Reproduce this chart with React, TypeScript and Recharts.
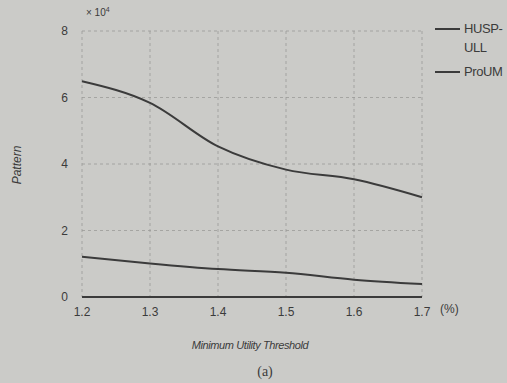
import { LineChart, Line, XAxis, YAxis, CartesianGrid } from "recharts";

const thresholds = [1.2, 1.3, 1.4, 1.5, 1.6, 1.7];
const huspUll = [6.49, 5.84, 4.53, 3.83, 3.54, 3.0];
const proUm = [1.21, 1.01, 0.84, 0.73, 0.52, 0.39];
const yTicks = [0, 2, 4, 6, 8];

const data = thresholds.map((t, i) => ({
  t,
  husp: huspUll[i],
  proum: proUm[i],
}));

const BG = "#cbcbc8";
const INK = "#3b3b3b";
const FONT = "'Liberation Sans', Arial, sans-serif";

export default function App() {
  return (
    <div
      style={{
        position: "absolute",
        left: 0,
        top: 0,
        width: 507,
        height: 383,
        background: BG,
        fontFamily: FONT,
        color: INK,
        overflow: "hidden",
      }}
    >
      <LineChart
        width={507}
        height={383}
        data={data}
        margin={{ top: 31, right: 85, left: 52, bottom: 56 }}
      >
        <CartesianGrid stroke="#9a9a98" strokeDasharray="3 3" strokeWidth={0.8} />
        <XAxis
          dataKey="t"
          type="number"
          domain={[1.2, 1.7]}
          ticks={thresholds}
          tickFormatter={(v: number) => v.toFixed(1)}
          height={30}
          tickLine={false}
          axisLine={{ stroke: INK, strokeWidth: 2 }}
          tick={{ fill: INK, fontSize: 12, fontFamily: FONT }}
          tickMargin={4}
        />
        <YAxis
          type="number"
          domain={[0, 8]}
          ticks={yTicks}
          width={30}
          tickLine={false}
          axisLine={false}
          tick={{ fill: INK, fontSize: 12, fontFamily: FONT }}
          tickMargin={8}
        />
        <Line
          type="monotone"
          dataKey="husp"
          stroke={INK}
          strokeWidth={2}
          dot={false}
          isAnimationActive={false}
        />
        <Line
          type="monotone"
          dataKey="proum"
          stroke={INK}
          strokeWidth={2}
          dot={false}
          isAnimationActive={false}
        />
      </LineChart>

      <div style={{ position: "absolute", left: 86, top: 6, fontSize: 10 }}>
        × 10<sup style={{ fontSize: 7 }}>4</sup>
      </div>
      <div style={{ position: "absolute", left: 440, top: 302, fontSize: 12 }}>(%)</div>
      <div
        style={{
          position: "absolute",
          left: 17,
          top: 165,
          fontSize: 12,
          fontStyle: "italic",
          transform: "translate(-50%, -50%) rotate(-90deg)",
          whiteSpace: "nowrap",
        }}
      >
        Pattern
      </div>
      <div
        style={{
          position: "absolute",
          left: 250,
          top: 345,
          fontSize: 11,
          fontStyle: "italic",
          letterSpacing: -0.4,
          transform: "translate(-50%, -50%)",
          whiteSpace: "nowrap",
        }}
      >
        Minimum Utility Threshold
      </div>
      <div
        style={{
          position: "absolute",
          left: 265,
          top: 372,
          fontSize: 14,
          fontFamily: "'Liberation Serif', serif",
          transform: "translate(-50%, -50%)",
        }}
      >
        (a)
      </div>

      <div
        style={{
          position: "absolute",
          left: 435,
          top: 19,
          fontSize: 13,
          lineHeight: "19px",
          letterSpacing: -0.4,
        }}
      >
        <div style={{ display: "flex", alignItems: "flex-start" }}>
          <span style={{ width: 25, height: 2, background: INK, marginTop: 9, marginRight: 4 }} />
          <span>
            HUSP-
            <br />
            ULL
          </span>
        </div>
        <div style={{ display: "flex", alignItems: "flex-start", marginTop: 5 }}>
          <span style={{ width: 25, height: 2, background: INK, marginTop: 9, marginRight: 4 }} />
          <span>ProUM</span>
        </div>
      </div>
    </div>
  );
}
